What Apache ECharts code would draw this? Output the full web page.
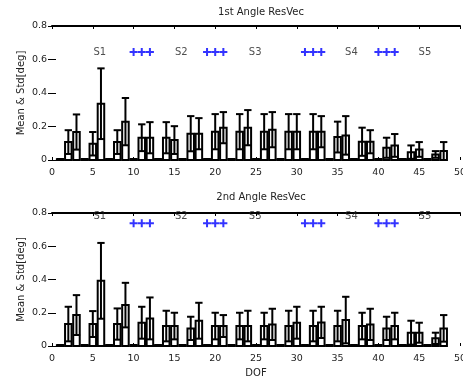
<!DOCTYPE html>
<html>
<head>
<meta charset="utf-8">
<script src="https://cdn.jsdelivr.net/npm/echarts@6/dist/echarts.min.js"></script>
<style>html,body{margin:0;padding:0;background:#fff}#c{width:463px;height:381px}</style>
</head>
<body>
<div id="c"></div>
<script>
// ---- data ----
const dof = [1,2,3,4,5,6,7,8,9,10,11,12,13,14,15,16,17,18,19,20,21,22,23,24,25,26,27,28,29,30,31,32,33,34,35,36,37,38,39,40,41,42,43,44,45,46,47,48];
const mean1 = [0.004,0.107,0.167,0.004,0.097,0.336,0.004,0.107,0.229,0.004,0.133,0.133,0.004,0.133,0.119,0.004,0.157,0.157,0.004,0.169,0.193,0.004,0.169,0.193,0.004,0.169,0.181,0.004,0.169,0.169,0.004,0.169,0.169,0.004,0.137,0.147,0.004,0.109,0.109,0.004,0.073,0.087,0.004,0.047,0.063,0.004,0.033,0.053];
const std1  = [0.002,0.071,0.105,0.002,0.070,0.211,0.002,0.071,0.141,0.002,0.080,0.093,0.002,0.093,0.083,0.002,0.105,0.093,0.002,0.105,0.093,0.002,0.105,0.105,0.002,0.105,0.105,0.002,0.105,0.105,0.002,0.105,0.093,0.002,0.092,0.115,0.002,0.084,0.069,0.002,0.060,0.068,0.002,0.040,0.044,0.002,0.020,0.054];
const mean2 = [0.004,0.132,0.186,0.004,0.132,0.392,0.004,0.132,0.246,0.004,0.140,0.166,0.004,0.120,0.120,0.004,0.106,0.152,0.004,0.120,0.120,0.004,0.120,0.120,0.004,0.120,0.130,0.004,0.120,0.140,0.004,0.120,0.142,0.004,0.120,0.156,0.004,0.120,0.130,0.004,0.106,0.120,0.004,0.080,0.080,0.004,0.046,0.106];
const std2  = [0.002,0.104,0.120,0.002,0.078,0.228,0.002,0.094,0.134,0.002,0.096,0.126,0.002,0.092,0.080,0.002,0.070,0.108,0.002,0.080,0.066,0.002,0.080,0.092,0.002,0.080,0.094,0.002,0.092,0.096,0.002,0.092,0.094,0.002,0.092,0.140,0.002,0.080,0.094,0.002,0.070,0.080,0.002,0.072,0.060,0.002,0.034,0.080];
const segLabels = ['S1','S2','S3','S4','S5'];
const segX = [5.85,15.85,24.9,36.7,45.7];
const segY1 = 0.645, segY2 = 0.78;
const plusX = [10,11,12,19,20,21,31,32,33,40,41,42];
const plusY1 = 0.645, plusY2 = 0.738;
const titles = ['1st Angle ResVec','2nd Angle ResVec'];
const yName = 'Mean & Std[deg]';
const xName = 'DOF';

const chart = echarts.init(document.getElementById('c'), null, {renderer:'canvas'});
const FONT = 'DejaVu Sans';
const grids = [
  {left:52, right:3, top:26, height:134, outerBoundsMode:'none', containLabel:false},
  {left:52, right:3, top:213, height:133, outerBoundsMode:'none', containLabel:false}
];

function barItem(params, api){
  const x = api.value(0), m = api.value(1);
  const p0 = api.coord([x-0.4, m]);
  const p1 = api.coord([x+0.4, 0]);
  return {type:'rect', shape:{x:p0[0], y:p0[1], width:p1[0]-p0[0], height:p1[1]-p0[1]},
    style:{fill:'#fff', stroke:'#000', lineWidth:2}};
}
function errItem(params, api){
  const x = api.value(0), m = api.value(1), s = api.value(2);
  const lo = Math.max(0, m - s), hi = m + s;
  const a = api.coord([x, lo]), b = api.coord([x, hi]);
  const hw = api.size([0.45, 0])[0];
  const st = {stroke:'#000', lineWidth:2};
  return {type:'group', children:[
    {type:'line', shape:{x1:a[0], y1:a[1], x2:b[0], y2:b[1]}, style:st},
    {type:'line', shape:{x1:a[0]-hw, y1:a[1], x2:a[0]+hw, y2:a[1]}, style:st},
    {type:'line', shape:{x1:b[0]-hw, y1:b[1], x2:b[0]+hw, y2:b[1]}, style:st}
  ]};
}
const plusPath = 'path://M3,0h2v3h3v2h-3v3h-2v-3h-3v-2h3z';

const xAxes = [], yAxes = [], series = [];
[0,1].forEach(g => {
  const lab = {fontFamily:FONT, fontSize:9.5, color:'#222'};
  xAxes.push({gridIndex:g, type:'value', min:0, max:50, interval:5, position:'bottom',
    axisLine:{show:false}, axisTick:{show:true, inside:true, length:3, lineStyle:{color:'#000'}},
    axisLabel:Object.assign({margin:8, hideOverlap:false}, lab), splitLine:{show:false},
    name: g===1 ? xName : '', nameLocation:'middle', nameGap:22, nameMoveOverlap:false,
    nameTextStyle:{fontFamily:FONT, fontSize:10, color:'#222'}});
  xAxes.push({gridIndex:g, type:'value', min:0, max:50, interval:5, position:'top',
    axisLine:{show:true, onZero:false, lineStyle:{color:'#000', width:2}},
    axisTick:{show:true, inside:true, length:3, lineStyle:{color:'#000'}},
    axisLabel:{show:false}, splitLine:{show:false}});
  yAxes.push({gridIndex:g, type:'value', min:0, max:0.8, interval:0.2, position:'left',
    axisLine:{show:false}, axisTick:{show:true, inside:true, length:4, lineStyle:{color:'#000'}},
    axisLabel:Object.assign({margin:5, formatter:v => v===0 ? '0' : v.toFixed(1)}, lab),
    splitLine:{show:false},
    name:yName, nameLocation:'middle', nameGap:26, nameRotate:90, nameMoveOverlap:false,
    nameTextStyle:{fontFamily:FONT, fontSize:10, color:'#222'}});
  yAxes.push({gridIndex:g, type:'value', min:0, max:0.8, interval:0.2, position:'right',
    axisLine:{show:false}, axisTick:{show:true, inside:true, length:4, lineStyle:{color:'#000'}},
    axisLabel:{show:false}, splitLine:{show:false}});
  const mean = g===0 ? mean1 : mean2, std = g===0 ? std1 : std2;
  const data = dof.map((d,i) => [d, mean[i], std[i]]);
  series.push({type:'custom', xAxisIndex:g*2, yAxisIndex:g*2, renderItem:barItem, data:data, z:2, silent:true});
  series.push({type:'custom', xAxisIndex:g*2, yAxisIndex:g*2, renderItem:errItem, data:data, z:3, silent:true});
  series.push({type:'scatter', xAxisIndex:g*2, yAxisIndex:g*2, symbolSize:0, z:4, silent:true,
    data:segLabels.map((s,i) => ({name:s, value:[segX[i], g===0?segY1:segY2]})),
    label:{show:true, position:'inside', formatter:'{b}', fontFamily:FONT, fontSize:10, color:'#222'}});
  series.push({type:'scatter', xAxisIndex:g*2, yAxisIndex:g*2, symbol:plusPath, symbolSize:8, z:4, silent:true,
    itemStyle:{color:'#0000ff'},
    data:plusX.map(x => [x, g===0?plusY1:plusY2])});
});

chart.setOption({
  animation:false,
  backgroundColor:'#fff',
  title: titles.map((t,i) => ({text:t, left:256, textAlign:'center', top: i===0 ? 2 : 187,
    textStyle:{fontFamily:FONT, fontSize:10, fontWeight:'normal', color:'#222'}})),
  grid: grids,
  xAxis: xAxes,
  yAxis: yAxes,
  series: series
});
</script>
</body>
</html>
